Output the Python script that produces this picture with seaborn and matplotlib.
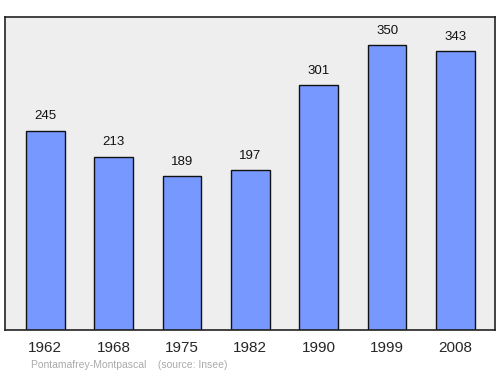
import matplotlib
matplotlib.use("Agg")
import matplotlib.pyplot as plt
import seaborn as sns
import pandas as pd

years = ["1962", "1968", "1975", "1982", "1990", "1999", "2008"]
population = [245, 213, 189, 197, 301, 350, 343]

df = pd.DataFrame({"year": years, "pop": population})

sns.set_style("white")
plt.rcParams['font.family'] = ['Liberation Sans', 'DejaVu Sans']

fig = plt.figure(figsize=(5, 3.74), dpi=100)
ax = fig.add_axes([0.01, 0.1176, 0.98, 0.837])
sns.barplot(data=df, x="year", y="pop", ax=ax, color="#7799ff", saturation=1,
            width=0.57, edgecolor="#111111", linewidth=1, zorder=2)
ax.set_facecolor("#eeeeee")
ax.set_xlim(-0.59, 6.58)
ax.set_ylim(0, 385)
for s in ax.spines.values():
    s.set_color("#222222")
    s.set_linewidth(1.2)
ax.set_yticks([])
ax.set_xlabel("")
ax.set_ylabel("")
ax.tick_params(axis="x", length=0, pad=8, labelsize=11)
for i, v in enumerate(population):
    ax.annotate(str(v), (i, v), xytext=(0, 6), textcoords="offset points",
                ha="center", va="bottom", fontsize=9.5, color="#111111")
fig.text(0.062, 0.012, "Pontamafrey-Montpascal    (source: Insee)", fontsize=7.5,
         color="#aaaaaa", ha="left", va="bottom")
fig.savefig("out.png", dpi=100)
